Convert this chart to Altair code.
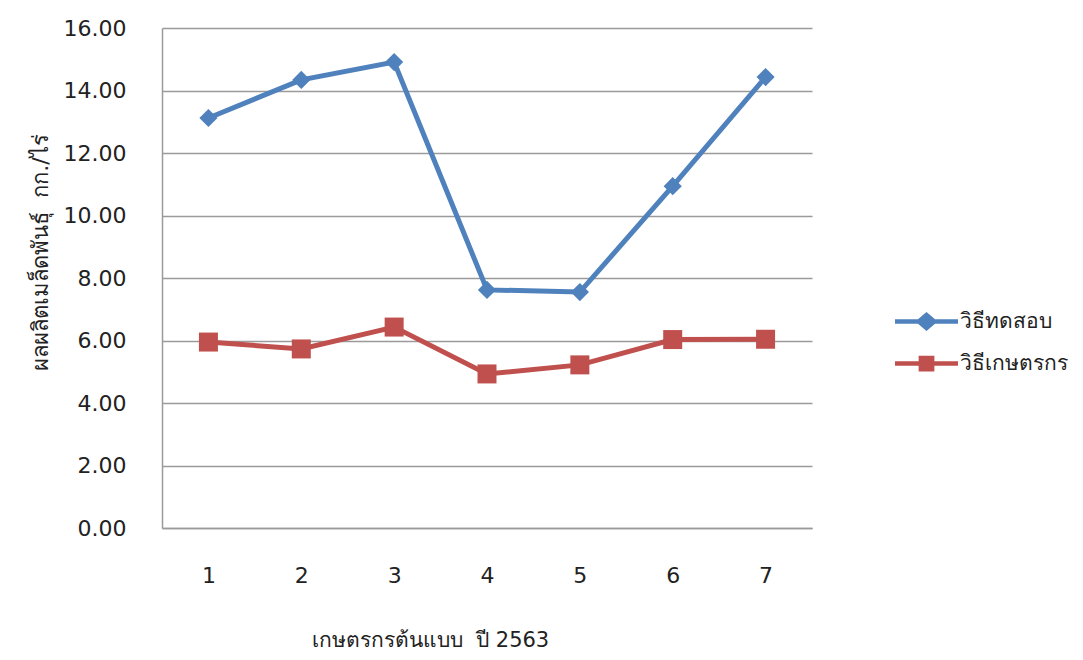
import altair as alt
import pandas as pd

farmers = ["1", "2", "3", "4", "5", "6", "7"]
test_method = [13.12, 14.34, 14.91, 7.62, 7.55, 10.94, 14.43]
farmer_method = [5.95, 5.73, 6.43, 4.93, 5.22, 6.03, 6.04]
series_names = ["วิธีทดสอบ", "วิธีเกษตรกร"]
series_colors = ["#4F81BD", "#C0504D"]
y_ticks = [0, 2, 4, 6, 8, 10, 12, 14, 16]

rows = []
for f, v in zip(farmers, test_method):
    rows.append({"farmer": f, "value": v, "series": series_names[0]})
for f, v in zip(farmers, farmer_method):
    rows.append({"farmer": f, "value": v, "series": series_names[1]})
df = pd.DataFrame(rows)

FONT = "DejaVu Sans"

diamond_leg = "M-1,-0.07L-0.27,-0.07L0,-0.3L0.27,-0.07L1,-0.07L1,0.07L0.27,0.07L0,0.3L-0.27,0.07L-1,0.07Z"
square_leg = "M-1,-0.07L-0.25,-0.07L-0.25,-0.25L0.25,-0.25L0.25,-0.07L1,-0.07L1,0.07L0.25,0.07L0.25,0.25L-0.25,0.25L-0.25,0.07L-1,0.07Z"

x_enc = alt.X(
    "farmer:O",
    sort=farmers,
    axis=alt.Axis(
        title="เกษตรกรต้นแบบ\u00a0\u00a0ปี 2563",
        labelAngle=0,
        labelFontSize=22,
        labelFont=FONT,
        labelColor="#222222",
        labelPadding=37,
        ticks=False,
        domainColor="#9a9a9a",
        domainWidth=1.5,
        titleFontSize=21,
        titleFont=FONT,
        titleFontWeight="normal",
        titleColor="#222222",
        titleX=268,
        titleY=112,
        titleBaseline="middle",
        titleAlign="center",
    ),
)
y_enc = alt.Y(
    "value:Q",
    scale=alt.Scale(domain=[0, 16], nice=False),
    axis=alt.Axis(
        title="ผลผลิตเมล็ดพันธุ์\u00a0\u00a0กก./ไร่",
        values=y_ticks,
        format=".2f",
        labelFontSize=22,
        labelFont=FONT,
        labelColor="#222222",
        labelPadding=36,
        ticks=False,
        grid=True,
        gridColor="#9a9a9a",
        gridWidth=1.5,
        domainColor="#9a9a9a",
        domainWidth=1.5,
        titleFontSize=22,
        titleFont=FONT,
        titleFontWeight="normal",
        titleColor="#222222",
        titleX=-122,
        titleY=224,
        titleBaseline="middle",
        titleAlign="center",
        titleAngle=270,
    ),
)
color_scale = alt.Scale(domain=series_names, range=series_colors)

legend_def = alt.Legend(
    title=None,
    orient="none",
    legendX=733,
    legendY=262,
    symbolSize=3969,
    symbolOpacity=1,
    symbolStrokeWidth=0,
    labelFontSize=21,
    labelFont=FONT,
    labelColor="#222222",
    labelOffset=2,
    rowPadding=-3,
)

lines = alt.Chart(df).mark_line(strokeWidth=5).encode(
    x=x_enc,
    y=y_enc,
    color=alt.Color("series:N", scale=color_scale, legend=None),
    detail="series:N",
)

points = alt.Chart(df).mark_point(filled=True, opacity=1).encode(
    x=x_enc,
    y=y_enc,
    color=alt.Color("series:N", scale=color_scale, legend=None),
    shape=alt.Shape(
        "series:N",
        scale=alt.Scale(domain=series_names, range=["diamond", "square"]),
        legend=None,
    ),
    size=alt.Size(
        "series:N",
        scale=alt.Scale(domain=series_names, range=[330, 361]),
        legend=None,
    ),
)

legend_layer = alt.Chart(df).mark_point(filled=True, opacity=0, size=3969).encode(
    x=x_enc,
    y=y_enc,
    color=alt.Color("series:N", scale=color_scale, legend=legend_def),
    shape=alt.Shape(
        "series:N",
        scale=alt.Scale(domain=series_names, range=[diamond_leg, square_leg]),
        legend=legend_def,
    ),
)

chart = (
    alt.layer(lines, points, legend_layer)
    .resolve_scale(shape="independent", size="independent", color="independent")
    .properties(
        width=650,
        height=500,
        autosize=alt.AutoSizeParams(type="none"),
        padding={"left": 154, "top": 20, "right": 260, "bottom": 130},
        background="white",
    )
    .configure_view(stroke=None)
)

chart.save("out.html", embed_options={"renderer": "svg", "actions": False})
